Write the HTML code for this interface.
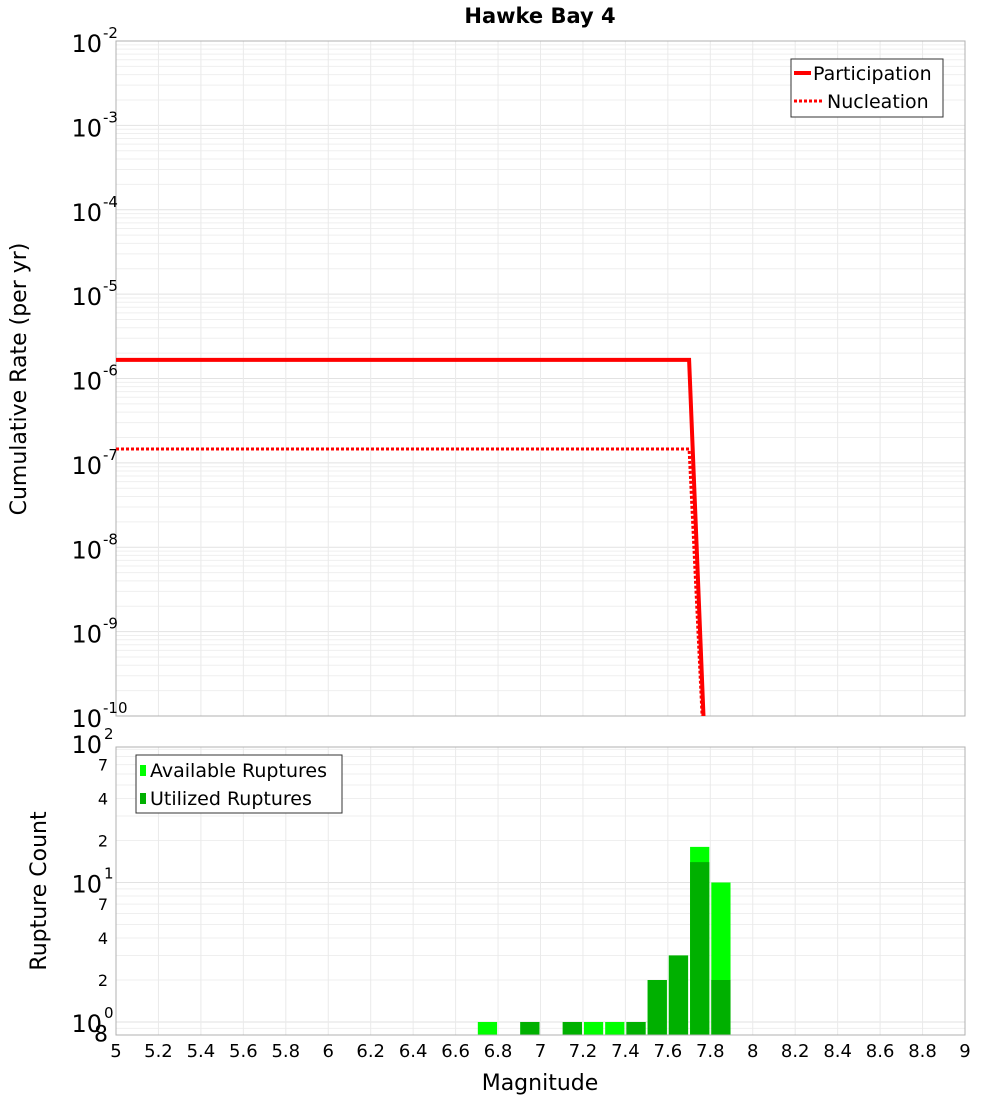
<!DOCTYPE html>
<html><head><meta charset="utf-8"><style>
body{margin:0;background:#fff;font-family:"Liberation Sans","DejaVu Sans",sans-serif}
svg text{font-family:"DejaVu Sans","Liberation Sans",sans-serif}
</style></head><body>
<svg id="c" width="1000" height="1100" xmlns="http://www.w3.org/2000/svg">
<text x="540" y="23" text-anchor="middle" font-size="21" font-weight="bold">Hawke Bay 4</text>
<g id="top"></g>
<g id="bot"></g>
<text transform="translate(26,379) rotate(-90)" text-anchor="middle" font-size="22">Cumulative Rate (per yr)</text>
<text transform="translate(46,891) rotate(-90)" text-anchor="middle" font-size="22">Rupture Count</text>
<text x="540" y="1090" text-anchor="middle" font-size="22">Magnitude</text>
</svg>
<script>
const partMags=[5.0,7.7,7.8];
const partVals=[1.66e-6,1.66e-6,1e-12];
const nuclMags=[5.0,7.7,7.8];
const nuclVals=[1.46e-7,1.46e-7,1e-12];
const binCenters=[6.75,6.95,7.15,7.25,7.35,7.45,7.55,7.65,7.75,7.85];
const availCounts=[1,1,1,1,1,1,2,3,18,10];
const utilCounts=[0,1,1,0,0,1,2,3,14,2];
const xTicks=["5","5.2","5.4","5.6","5.8","6","6.2","6.4","6.6","6.8","7","7.2","7.4","7.6","7.8","8","8.2","8.4","8.6","8.8","9"];

const NS="http://www.w3.org/2000/svg";
function mk(p,t,a){const e=document.createElementNS(NS,t);for(const k in a)e.setAttribute(k,a[k]);p.appendChild(e);return e;}
const X0=116,X1=965;
const xs=m=>X0+(m-5)/4*(X1-X0);
const T0=41,T1=716;
const ysT=v=>T0+(-2-Math.log10(v))*(T1-T0)/8;
const B0=747,B1=1035;
const ysB=v=>1022-139.5*Math.log10(v);
const gTop=document.getElementById('top'),gBot=document.getElementById('bot');
const defs=mk(document.getElementById('c'),'defs',{});
const cp=mk(defs,'clipPath',{id:'cpT'});mk(cp,'rect',{x:X0,y:T0,width:X1-X0,height:T1-T0});
for(let d=-10;d<-2;d++)for(let k=1;k<10;k++){const y=ysT(k*Math.pow(10,d));const l=mk(gTop,'line',{x1:X0,x2:X1,y1:y,y2:y,stroke:k==1?'#e2e2e2':'#efefef','stroke-width':1});}
for(let i=0;i<xTicks.length;i++){const x=xs(+xTicks[i]);const l=mk(gTop,'line',{x1:x,x2:x,y1:T0,y2:T1,stroke:'#eaeaea'});}
let r=mk(gTop,'rect',{x:X0,y:T0,width:X1-X0,height:T1-T0,fill:'none',stroke:'#b0b0b0'});

for(let d=-2;d>=-10;d--){const y=ysT(Math.pow(10,d));const t=mk(gTop,'text',{x:102,y:y+11,'text-anchor':'end','font-size':24});t.textContent='10';

const s=mk(gTop,'text',{x:103,y:y-3,'font-size':15});s.textContent=String(d);}
function path(ms,vs){return ms.map((m,i)=>(i?'L':'M')+xs(m).toFixed(1)+','+ysT(vs[i]).toFixed(1)).join('');}
let p=mk(gTop,'path',{d:path(nuclMags,nuclVals),fill:'none',stroke:'#ff0000','stroke-width':3,'stroke-dasharray':'3,2','clip-path':'url(#cpT)'});

p=mk(gTop,'path',{d:path(partMags,partVals),fill:'none',stroke:'#ff0000','stroke-width':4,'clip-path':'url(#cpT)'});

const lg=mk(gTop,'g',{});
mk(lg,'rect',{x:791,y:59,width:152,height:58,fill:'#fff',stroke:'#333'});
mk(lg,'line',{x1:794,x2:811,y1:73,y2:73,stroke:'#f00','stroke-width':4});
mk(lg,'line',{x1:794,x2:822,y1:101,y2:101,stroke:'#f00','stroke-width':3,'stroke-dasharray':'3,2'});
let t=mk(lg,'text',{x:813,y:80,'font-size':19});t.textContent='Participation';
t=mk(lg,'text',{x:827,y:108,'font-size':19});t.textContent='Nucleation';
for(let d=-1;d<2;d++)for(let k=1;k<10;k++){const v=k*Math.pow(10,d);const y=ysB(v);if(y<B0||y>B1)continue;const l=mk(gBot,'line',{x1:X0,x2:X1,y1:y,y2:y,stroke:k==1?'#e2e2e2':'#efefef'});}
for(let i=0;i<xTicks.length;i++){const x=xs(+xTicks[i]);const l=mk(gBot,'line',{x1:x,x2:x,y1:B0,y2:B1,stroke:'#eaeaea'});
const tx=mk(gBot,'text',{x:x,y:1057,'text-anchor':'middle','font-size':18});tx.textContent=xTicks[i];}
const bw=xs(5.1)-xs(5);
for(let i=0;i<binCenters.length;i++){const x=xs(binCenters[i])-bw/2+1;
if(availCounts[i]>0){const y=ysB(availCounts[i]);const b=mk(gBot,'rect',{x:x,y:y,width:bw-2,height:B1-y,fill:'#00ff00'});}
if(utilCounts[i]>0){const y=ysB(utilCounts[i]);const b=mk(gBot,'rect',{x:x,y:y,width:bw-2,height:B1-y,fill:'#00b000'});}}
r=mk(gBot,'rect',{x:X0,y:B0,width:X1-X0,height:B1-B0,fill:'none',stroke:'#b0b0b0'});

[[100,'2'],[10,'1'],[1,'0']].forEach(([v,e])=>{const y=ysB(v);const a=mk(gBot,'text',{x:102,y:y+10,'text-anchor':'end','font-size':24});a.textContent='10';
const s=mk(gBot,'text',{x:104,y:y-4,'font-size':15});s.textContent=e;});
[[70,'7'],[40,'4'],[20,'2'],[7,'7'],[4,'4'],[2,'2'],[0.8,'8']].forEach(([v,l])=>{const y=ysB(v);const a=mk(gBot,'text',{x:108,y:y+6,'text-anchor':'end','font-size':v<1?22:16});a.textContent=l;});
const bl=mk(gBot,'g',{});
mk(bl,'rect',{x:136,y:755,width:206,height:58,fill:'#fff',stroke:'#333'});
mk(bl,'rect',{x:140,y:765,width:6,height:11,fill:'#00ff00'});
mk(bl,'rect',{x:140,y:793,width:6,height:11,fill:'#00b000'});
t=mk(bl,'text',{x:150,y:777,'font-size':19});t.textContent='Available Ruptures';
t=mk(bl,'text',{x:150,y:805,'font-size':19});t.textContent='Utilized Ruptures';
</script>
</body></html>
